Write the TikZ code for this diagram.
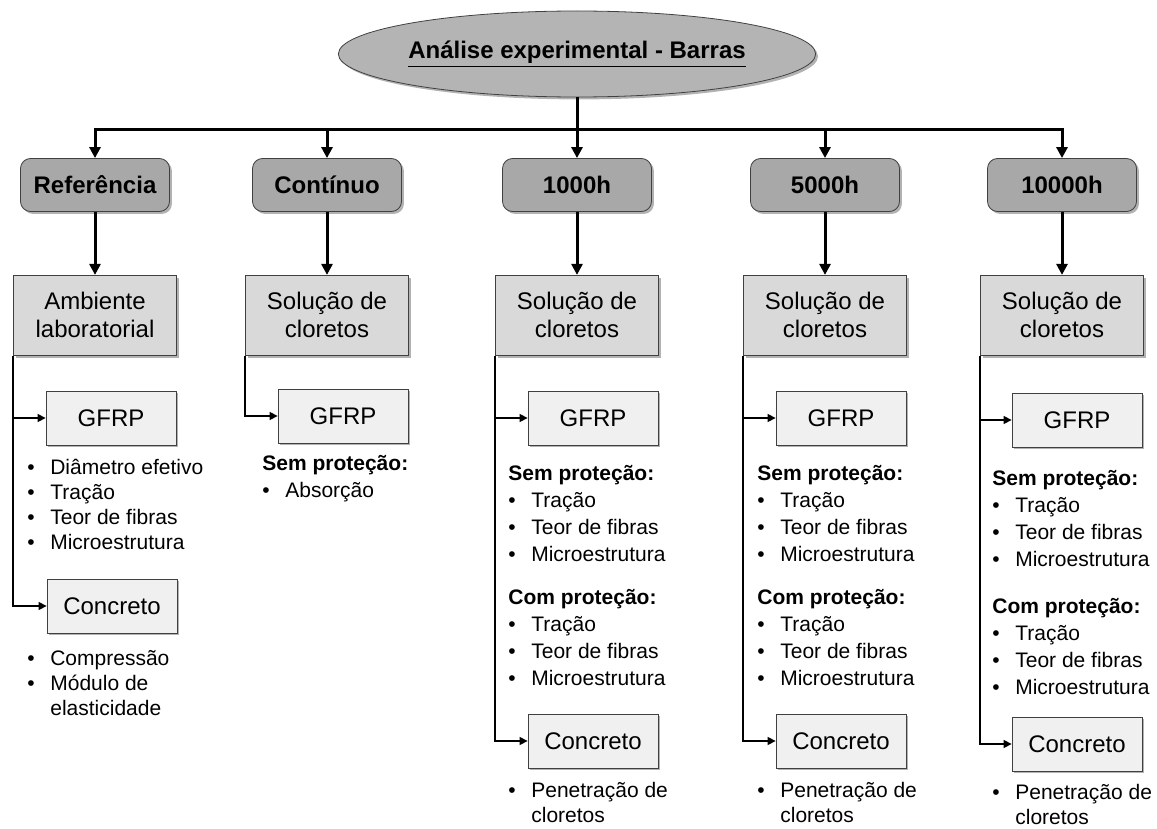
\documentclass[tikz,border=0pt]{standalone}
\usepackage{fontspec}
\setmainfont{Liberation Sans}
\usepackage{xcolor}
\usetikzlibrary{positioning,arrows.meta,shapes.geometric,shadows}
\definecolor{elipsecinza}{HTML}{B4B4B4}
\definecolor{fasecinza}{HTML}{A8A8A8}
\definecolor{meiocinza}{HTML}{D9D9D9}
\definecolor{ensaiocinza}{HTML}{F0F0F0}
\definecolor{bordacinza}{HTML}{404040}
\newcommand{\cabeca}[1]{\multicolumn{2}{@{}l@{}}{\bfseries #1}}
\newenvironment{itens}{\begin{tabular}[t]{@{}l@{\hspace{7.8pt}}l@{}}}{\end{tabular}}

\begin{document}
\begin{tikzpicture}[x=0.5pt,y=-0.5pt,
  sombra/.style={drop shadow={shadow xshift=1.2pt,shadow yshift=-1.2pt,opacity=0.3,fill=black}},
  titulo/.style={ellipse,draw=bordacinza,fill=elipsecinza,minimum width=192pt,minimum height=43pt,inner sep=0pt,font=\bfseries\fontsize{12}{14}\selectfont,sombra},
  fase/.style={draw=bordacinza,fill=fasecinza,rounded corners=5pt,minimum width=74.5pt,minimum height=26.5pt,font=\bfseries\fontsize{12}{14}\selectfont,sombra},
  meio/.style={draw=bordacinza,fill=meiocinza,minimum width=81.5pt,minimum height=40pt,align=center,font=\fontsize{12}{14}\selectfont,sombra},
  ensaio/.style={draw=bordacinza,fill=ensaiocinza,minimum width=65pt,minimum height=27pt,font=\fontsize{12}{14}\selectfont,sombra},
  lista/.style={anchor=base west,inner sep=0pt,font=\fontsize{10.5}{13.5}\selectfont},
  tronco/.style={line width=1.5pt},
  seta/.style={tronco,-{Triangle[length=5.5pt,width=5.5pt]}},
  ramo/.style={line width=0.7pt,-{Triangle[length=4pt,width=4pt]}}
]
\useasboundingbox (0,0) rectangle (1157,829);

\node[titulo] (tit) at (577,54) {\underline{Análise experimental - Barras}};

% fases
\node[fase] (ref) at (95,185) {Referência};
\node[fase] (cont) at (327,185) {Contínuo};
\node[fase] (mil) at (577,185) {1000h};
\node[fase] (cinco) at (825,185) {5000h};
\node[fase] (dez) at (1062,185) {10000h};

\node[meio,below=31.5pt of ref] (amb) {Ambiente\\laboratorial};
\node[meio,below=31.5pt of cont] (solB) {Solução de\\cloretos};
\node[meio,below=31.5pt of mil] (solC) {Solução de\\cloretos};
\node[meio,below=31.5pt of cinco] (solD) {Solução de\\cloretos};
\node[meio,below=31.5pt of dez] (solE) {Solução de\\cloretos};

\coordinate (barra) at (577,130);
\draw[seta] (tit) -- (mil);
\draw[seta] (barra) -| (ref);
\draw[seta] (barra) -| (dez);
\draw[seta] (barra -| cont) -- (cont);
\draw[seta] (barra -| cinco) -- (cinco);

\draw[seta] (ref) -- (amb);
\draw[seta] (cont) -- (solB);
\draw[seta] (mil) -- (solC);
\draw[seta] (cinco) -- (solD);
\draw[seta] (dez) -- (solE);

% ensaios
\node[ensaio] (gfrpA) at (111,418) {GFRP};
\node[ensaio] (concA) at (112,606) {Concreto};
\node[ensaio] (gfrpB) at (343,416) {GFRP};
\node[ensaio] (gfrpC) at (593,418) {GFRP};
\node[ensaio] (concC) at (593,741) {Concreto};
\node[ensaio] (gfrpD) at (841,418) {GFRP};
\node[ensaio] (concD) at (841,741) {Concreto};
\node[ensaio] (gfrpE) at (1077,420) {GFRP};
\node[ensaio] (concE) at (1077,744) {Concreto};

\draw[ramo] (amb.south west) |- (gfrpA);
\draw[ramo] (amb.south west) |- (concA);
\draw[ramo] (solB.south west) |- (gfrpB);
\draw[ramo] (solC.south west) |- (gfrpC);
\draw[ramo] (solC.south west) |- (concC);
\draw[ramo] (solD.south west) |- (gfrpD);
\draw[ramo] (solD.south west) |- (concD);
\draw[ramo] (solE.south west) |- (gfrpE);
\draw[ramo] (solE.south west) |- (concE);

% listas
\node[lista,font=\fontsize{10.5}{12.5}\selectfont] (itA) at (27,474) {\begin{itens}
•&Diâmetro efetivo\\ •&Tração\\ •&Teor de fibras\\ •&Microestrutura
\end{itens}};
\node[lista,font=\fontsize{10.5}{12.5}\selectfont] (itA2) at (27,665) {\begin{itens}
•&Compressão\\ •&Módulo de\\ &elasticidade
\end{itens}};
\node[lista] (itB) at (262,470) {\begin{itens}
\cabeca{Sem proteção:}\\ •&Absorção
\end{itens}};
\node[lista] (itC) at (508,480) {\begin{itens}
\cabeca{Sem proteção:}\\ •&Tração\\ •&Teor de fibras\\ •&Microestrutura\\[8pt]
\cabeca{Com proteção:}\\ •&Tração\\ •&Teor de fibras\\ •&Microestrutura
\end{itens}};
\node[lista,font=\fontsize{10.5}{12.5}\selectfont] (itC2) at (508,797) {\begin{itens}
•&Penetração de\\ &cloretos
\end{itens}};
\node[lista] (itD) at (757,480) {\begin{itens}
\cabeca{Sem proteção:}\\ •&Tração\\ •&Teor de fibras\\ •&Microestrutura\\[8pt]
\cabeca{Com proteção:}\\ •&Tração\\ •&Teor de fibras\\ •&Microestrutura
\end{itens}};
\node[lista,font=\fontsize{10.5}{12.5}\selectfont] (itD2) at (757,797) {\begin{itens}
•&Penetração de\\ &cloretos
\end{itens}};
\node[lista] (itE) at (992,485) {\begin{itens}
\cabeca{Sem proteção:}\\ •&Tração\\ •&Teor de fibras\\ •&Microestrutura\\[10pt]
\cabeca{Com proteção:}\\ •&Tração\\ •&Teor de fibras\\ •&Microestrutura
\end{itens}};
\node[lista,font=\fontsize{10.5}{12.5}\selectfont] (itE2) at (992,799) {\begin{itens}
•&Penetração de\\ &cloretos
\end{itens}};
\end{tikzpicture}
\end{document}
